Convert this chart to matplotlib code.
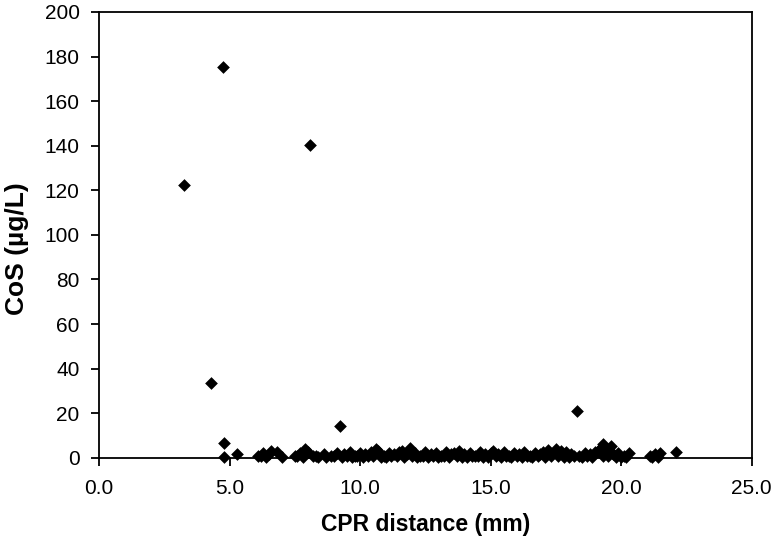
import numpy as np
import matplotlib
matplotlib.use('Agg')
import matplotlib.pyplot as plt

plt.rcParams['font.family'] = ['Liberation Sans', 'DejaVu Sans']

# 离群点
x_high = [3.25, 4.27, 4.75, 4.8, 4.8, 8.1, 9.25, 18.3, 19.3, 19.6]
y_high = [122.5, 33.5, 175.5, 6.5, 0.5, 140.5, 14.2, 21.0, 6.0, 5.5]

# 低浓度点
x_low = [5.3, 6.1, 6.3, 6.5, 6.6, 6.8, 7.5, 7.7, 7.9, 8.0, 8.3, 8.6, 8.9, 9.1,
         9.4, 9.6, 9.8, 10.0, 10.2, 10.4, 10.6, 10.7, 10.9, 11.1, 11.3, 11.5,
         11.6, 11.8, 11.9, 12.1, 12.3, 12.5, 12.7, 12.9, 13.1, 13.3, 13.5, 13.6,
         13.8, 14.0, 14.2, 14.4, 14.6, 14.8, 15.0, 15.1, 15.3, 15.5, 15.7, 15.9,
         16.1, 16.3, 16.5, 16.7, 16.9, 17.0, 17.2, 17.4, 17.5, 17.7, 17.9, 18.1,
         18.4, 18.6, 18.8, 19.0, 19.1, 19.2, 19.4, 19.6, 19.7, 19.9, 20.1, 20.3,
         21.1, 21.3, 21.5, 22.1]
y_low = [1.5, 1.0, 2.0, 1.5, 3.0, 2.5, 1.0, 2.0, 4.0, 2.5, 0.8, 1.5, 1.0, 2.0,
         1.5, 2.5, 1.0, 2.0, 1.5, 2.5, 4.0, 3.0, 1.0, 2.0, 1.5, 2.5,
         3.0, 1.5, 4.5, 2.0, 1.0, 2.5, 1.5, 2.0, 1.0, 2.5, 1.5, 2.0,
         3.0, 1.5, 2.0, 1.0, 2.5, 1.5, 2.0, 3.0, 1.5, 2.5, 1.0, 2.0,
         1.5, 2.5, 1.0, 2.0, 1.5, 2.5, 3.5, 2.0, 4.0, 3.0, 2.5, 1.5,
         1.0, 2.0, 1.5, 2.5, 3.0, 4.0, 3.5, 2.5, 1.5, 2.0, 1.0, 2.0,
         1.0, 1.5, 2.0, 2.5]

# 接近零的点
x_zero = [6.2, 6.4, 7.0, 7.6, 7.8, 8.2, 8.4, 8.7, 9.0, 9.3, 9.5, 9.7, 9.9,
          10.1, 10.3, 10.5, 10.8, 11.0, 11.2, 11.4, 11.7, 12.0, 12.2, 12.4,
          12.6, 12.8, 13.0, 13.2, 13.4, 13.7, 13.9, 14.1, 14.3, 14.5, 14.7,
          14.9, 15.2, 15.4, 15.6, 15.8, 16.0, 16.2, 16.4, 16.6, 16.8, 17.1,
          17.3, 17.6, 17.8, 18.0, 18.2, 18.5, 18.7, 18.9, 19.3, 19.5, 19.8,
          20.0, 20.2, 21.2, 21.4]
y_zero = [0.6, 0.4, 0.5, 0.7, 0.3, 0.6, 0.5, 0.4, 0.8, 0.5, 0.6, 0.4, 0.7,
          0.5, 0.6, 0.9, 0.5, 0.4, 0.7, 0.6, 0.5, 0.8, 0.4, 0.6,
          0.5, 0.7, 0.4, 0.6, 0.5, 0.8, 0.5, 0.4, 0.6, 0.7, 0.5,
          0.4, 0.6, 0.5, 0.7, 0.4, 0.6, 0.5, 0.8, 0.4, 0.6, 0.5,
          0.7, 0.6, 0.5, 0.4, 0.6, 0.5, 0.7, 0.4, 0.8, 0.6, 0.5,
          0.4, 0.3, 0.5, 0.4]

fig = plt.figure(figsize=(7.74, 5.45), dpi=100)
ax = fig.add_axes([0.128, 0.16, 0.843, 0.818])

x_all = x_high + x_low + x_zero
y_all = y_high + y_low + y_zero
ax.scatter(x_all, y_all, marker='D', s=42, color='black', linewidths=0,
           zorder=3, clip_on=False)

ax.set_xlim(0, 25)
ax.set_ylim(0, 200)
ax.set_xticks(np.arange(0, 25.1, 5))
ax.set_xticklabels([f'{v:.1f}' for v in np.arange(0, 25.1, 5)])
ax.set_yticks(np.arange(0, 201, 20))
ax.tick_params(direction='out', length=6, width=1.3, labelsize=15,
               colors='black')
ax.tick_params(axis='y', pad=8)
ax.tick_params(axis='x', pad=9)

for s in ax.spines.values():
    s.set_linewidth(1.3)
    s.set_color('black')

ax.set_xlabel('CPR distance (mm)', fontsize=16.5, fontweight='bold')
ax.set_ylabel('CoS (µg/L)', fontsize=19, fontweight='bold')
ax.xaxis.set_label_coords(0.5, -0.123)
ax.yaxis.set_label_coords(-0.108, 0.47)

plt.savefig('out.png', dpi=100)
